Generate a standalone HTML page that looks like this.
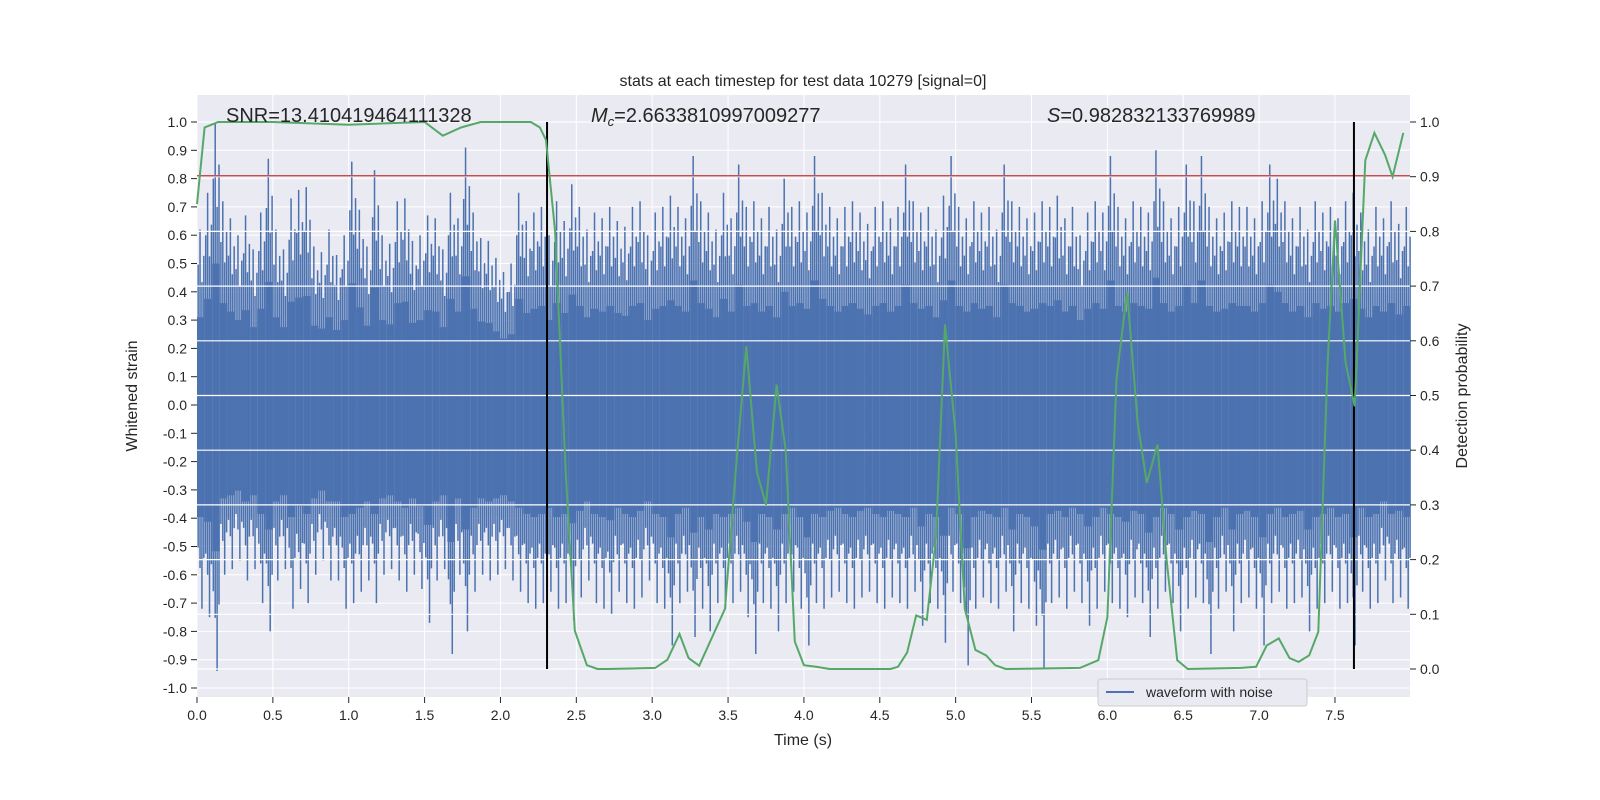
<!DOCTYPE html>
<html><head><meta charset="utf-8"><style>
html,body{margin:0;padding:0;background:#fff;overflow:hidden;width:1600px;height:800px;}
svg{display:block;font-family:"Liberation Sans","DejaVu Sans",sans-serif;}
</style></head><body>
<svg id="chart" width="1600" height="800" viewBox="0 0 1600 800"></svg>
<script>
// ---- data ----
const upperPeaks=[0.62,0.75,1.0,0.72,0.66,0.6,0.67,0.55,0.68,0.87,0.62,0.55,0.73,0.76,0.77,0.56,0.54,0.62,0.53,0.6,
0.86,0.69,0.56,0.83,0.6,0.57,0.72,0.73,0.58,0.6,0.67,0.66,0.55,0.75,0.66,0.91,0.68,0.59,0.58,0.52,
0.47,0.5,0.75,0.65,0.68,0.7,0.6,0.72,0.65,0.78,0.7,0.62,0.68,0.66,0.7,0.65,0.63,0.7,0.72,0.6,
0.68,0.7,0.74,0.7,0.66,0.88,0.72,0.68,0.62,0.75,0.66,0.85,0.7,0.72,0.66,0.7,0.62,0.8,0.7,0.72,
0.68,0.88,0.75,0.7,0.66,0.7,0.72,0.68,0.64,0.7,0.72,0.66,0.7,0.85,0.72,0.68,0.7,0.62,0.74,0.88,
0.7,0.66,0.72,0.68,0.7,0.62,0.85,0.72,0.7,0.66,0.68,0.72,0.7,0.74,0.66,0.7,0.6,0.68,0.72,0.68,
0.88,0.7,0.66,0.72,0.7,0.68,0.9,0.72,0.66,0.7,0.85,0.72,0.88,0.7,0.66,0.68,0.72,0.7,0.7,0.66,
0.72,0.85,0.8,0.72,0.66,0.7,0.62,0.72,0.68,0.7,0.66,0.72,0.75,0.68,0.62,0.7,0.66,0.72,0.64,0.7];
const lowerPeaks=[-0.72,-0.75,-0.94,-0.6,-0.58,-0.55,-0.62,-0.58,-0.7,-0.8,-0.62,-0.58,-0.72,-0.65,-0.7,-0.6,-0.55,-0.62,-0.62,-0.72,
-0.7,-0.66,-0.62,-0.7,-0.6,-0.58,-0.62,-0.66,-0.6,-0.65,-0.77,-0.62,-0.58,-0.88,-0.6,-0.8,-0.66,-0.6,-0.62,-0.6,
-0.58,-0.62,-0.66,-0.7,-0.72,-0.7,-0.66,-0.72,-0.7,-0.76,-0.68,-0.62,-0.7,-0.72,-0.74,-0.66,-0.7,-0.72,-0.68,-0.62,
-0.7,-0.72,-0.85,-0.7,-0.66,-0.82,-0.72,-0.8,-0.7,-0.72,-0.7,-0.66,-0.75,-0.88,-0.7,-0.72,-0.8,-0.7,-0.66,-0.72,
-0.85,-0.7,-0.72,-0.68,-0.66,-0.7,-0.72,-0.68,-0.66,-0.7,-0.72,-0.68,-0.7,-0.72,-0.66,-0.78,-0.7,-0.72,-0.84,-0.66,
-0.7,-0.92,-0.72,-0.68,-0.7,-0.72,-0.66,-0.8,-0.7,-0.72,-0.78,-0.93,-0.7,-0.68,-0.72,-0.66,-0.7,-0.78,-0.72,-0.66,
-0.7,-0.72,-0.75,-0.68,-0.7,-0.82,-0.72,-0.66,-0.7,-0.8,-0.72,-0.68,-0.7,-0.88,-0.72,-0.66,-0.8,-0.7,-0.68,-0.72,
-0.85,-0.7,-0.66,-0.72,-0.7,-0.68,-0.8,-0.72,-0.7,-0.66,-0.72,-0.7,-0.85,-0.66,-0.72,-0.7,-0.62,-0.7,-0.68,-0.72];
const probTimes=[0,0.05,0.14,0.5,1.0,1.5,1.62,1.74,1.87,2.2,2.26,2.3,2.36,2.43,2.49,2.57,2.64,2.7,3.02,3.1,3.18,3.24,3.31,3.48,3.55,3.62,3.69,3.75,3.82,3.88,3.94,4.0,4.08,4.17,4.57,4.62,4.68,4.74,4.81,4.87,4.93,5.0,5.06,5.13,5.2,5.26,5.33,5.82,5.94,6.0,6.06,6.13,6.2,6.26,6.33,6.39,6.46,6.53,6.88,6.98,7.05,7.13,7.2,7.26,7.33,7.39,7.45,7.5,7.57,7.63,7.7,7.76,7.83,7.88,7.95];
const probValues=[0.85,0.99,1.0,1.0,0.995,1.0,0.975,0.99,1.0,1.0,0.99,0.967,0.8,0.36,0.07,0.007,0.0,0.0,0.002,0.017,0.064,0.02,0.006,0.11,0.36,0.59,0.36,0.3,0.52,0.4,0.05,0.007,0.004,0.0,0.0,0.004,0.03,0.098,0.09,0.24,0.63,0.43,0.11,0.035,0.025,0.007,0.0,0.002,0.016,0.095,0.53,0.69,0.45,0.34,0.41,0.2,0.016,0.0,0.002,0.004,0.043,0.056,0.02,0.013,0.025,0.068,0.55,0.82,0.56,0.48,0.93,0.98,0.94,0.9,0.98];
const leftTicks=[-1.0,-0.9,-0.8,-0.7,-0.6,-0.5,-0.4,-0.3,-0.2,-0.1,0.0,0.1,0.2,0.3,0.4,0.5,0.6,0.7,0.8,0.9,1.0];
const rightTicks=[0.0,0.1,0.2,0.3,0.4,0.5,0.6,0.7,0.8,0.9,1.0];
const xTicks=[0.0,0.5,1.0,1.5,2.0,2.5,3.0,3.5,4.0,4.5,5.0,5.5,6.0,6.5,7.0,7.5];
const thresholdLevel=0.81;
const markerTimes=[2.307,7.625];

// ---- layout ----
const L=197,R=1410,T=95,B=697;
const xs=t=>L+t*151.73;
const yl=v=>405-v*283;
const yr=p=>669-p*547;
const NS="http://www.w3.org/2000/svg";
const svg=document.getElementById('chart');
function mk(tag,attrs,parent){const e=document.createElementNS(NS,tag);for(const k in attrs)e.setAttribute(k,attrs[k]);(parent||svg).appendChild(e);return e;}

const bg=mk('rect',{x:L,y:T,width:R-L,height:B-T,fill:'#eaeaf2'});


const grid=mk('g',{});


xTicks.forEach(t=>mk('line',{x1:xs(t),x2:xs(t),y1:T,y2:B,stroke:'#fff','stroke-width':1},grid));
leftTicks.forEach(v=>mk('line',{x1:L,x2:R,y1:yl(v),y2:yl(v),stroke:'#fff','stroke-width':1},grid));

// waveform
const wave=mk('g',{fill:'#4c72b0',stroke:'#4c72b0'});


const bw=0.05;
upperPeaks.forEach((u,i)=>{
  const lo=lowerPeaks[i];
  const x0=xs(i*bw);const w=xs(bw)-L;
  if(x0>R) return;
  mk('rect',{x:x0,y:yl(u*0.5),width:Math.min(w,R-x0),height:yl(lo*0.55)-yl(u*0.5),stroke:'none'},wave);
  mk('line',{x1:x0+w*0.15,x2:x0+w*0.15,y1:yl(u*0.8),y2:yl(lo*0.7),'stroke-width':1.5},wave);
  mk('line',{x1:x0+w*0.4,x2:x0+w*0.4,y1:yl(u),y2:yl(lo*0.8),'stroke-width':1.5},wave);
  mk('line',{x1:x0+w*0.65,x2:x0+w*0.65,y1:yl(u*0.7),y2:yl(lo),'stroke-width':1.5},wave);
  mk('line',{x1:x0+w*0.9,x2:x0+w*0.9,y1:yl(u*0.85),y2:yl(lo*0.75),'stroke-width':1.5},wave);
});
// right grid over waveform
const rgrid=mk('g',{});


rightTicks.forEach(p=>mk('line',{x1:L,x2:R,y1:yr(p),y2:yr(p),stroke:'#fff','stroke-width':1.2},rgrid));

const th=mk('line',{x1:L,x2:R,y1:yl(thresholdLevel),y2:yl(thresholdLevel),stroke:'#c44e52','stroke-width':1.5});


markerTimes.forEach((t,i)=>{const m=mk('line',{x1:xs(t),x2:xs(t),y1:yr(1),y2:yr(0),stroke:'#000','stroke-width':2});

});

const pts=probTimes.map((t,i)=>xs(t).toFixed(1)+','+yr(probValues[i]).toFixed(1)).join(' ');
const pl=mk('polyline',{points:pts,fill:'none',stroke:'#55a868','stroke-width':2});



// axes ticks & labels
const ax=mk('g',{fill:'#262626','font-size':14});


leftTicks.forEach(v=>{mk('line',{x1:L-6,x2:L,y1:yl(v),y2:yl(v),stroke:'#262626'},ax);
 const t=mk('text',{x:L-10,y:yl(v)+5,'text-anchor':'end'},ax);t.textContent=v.toFixed(1);});
rightTicks.forEach(p=>{mk('line',{x1:R,x2:R+6,y1:yr(p),y2:yr(p),stroke:'#262626'},ax);
 const t=mk('text',{x:R+10,y:yr(p)+5},ax);t.textContent=p.toFixed(1);});
xTicks.forEach(v=>{mk('line',{x1:xs(v),x2:xs(v),y1:B,y2:B+6,stroke:'#262626'},ax);
 const t=mk('text',{x:xs(v),y:B+23,'text-anchor':'middle'},ax);t.textContent=v.toFixed(1);});
function txt(s,a,name){const t=mk('text',a);t.textContent=s;return t;}
txt('Time (s)',{x:803,y:745,'text-anchor':'middle','font-size':16,fill:'#262626'},'x-axis-title');
txt('Whitened strain',{x:137,y:396,'text-anchor':'middle','font-size':16,fill:'#262626',transform:'rotate(-90 137 396)'},'y-axis-title');
txt('Detection probability',{x:1467,y:396,'text-anchor':'middle','font-size':16,fill:'#262626',transform:'rotate(-90 1467 396)'},'right-axis-title');
txt('stats at each timestep for test data 10279 [signal=0]',{x:803,y:86,'text-anchor':'middle','font-size':16,fill:'#262626'},'chart-title');
txt('SNR=13.410419464111328',{x:226,y:122,'font-size':20,fill:'#262626'},'snr-annotation');
const mc=txt('',{x:591,y:122,'font-size':20,fill:'#262626'},'mc-annotation');
mc.innerHTML='<tspan font-style="italic">M</tspan><tspan font-size="13" dy="4" font-style="italic">c</tspan><tspan dy="-4">=2.6633810997009277</tspan>';
const sa=txt('',{x:1047,y:122,'font-size':20,fill:'#262626'},'s-annotation');
sa.innerHTML='<tspan font-style="italic">S</tspan>=0.982832133769989';

const lg=mk('g',{});


mk('rect',{x:1098,y:679,width:209,height:27,rx:3,fill:'#eaeaf2',stroke:'#ccc'},lg);
mk('line',{x1:1106,x2:1134,y1:692,y2:692,stroke:'#4c72b0','stroke-width':2},lg);
const lt=mk('text',{x:1146,y:697,'font-size':14,fill:'#262626'},lg);lt.textContent='waveform with noise';
</script>
</body></html>
